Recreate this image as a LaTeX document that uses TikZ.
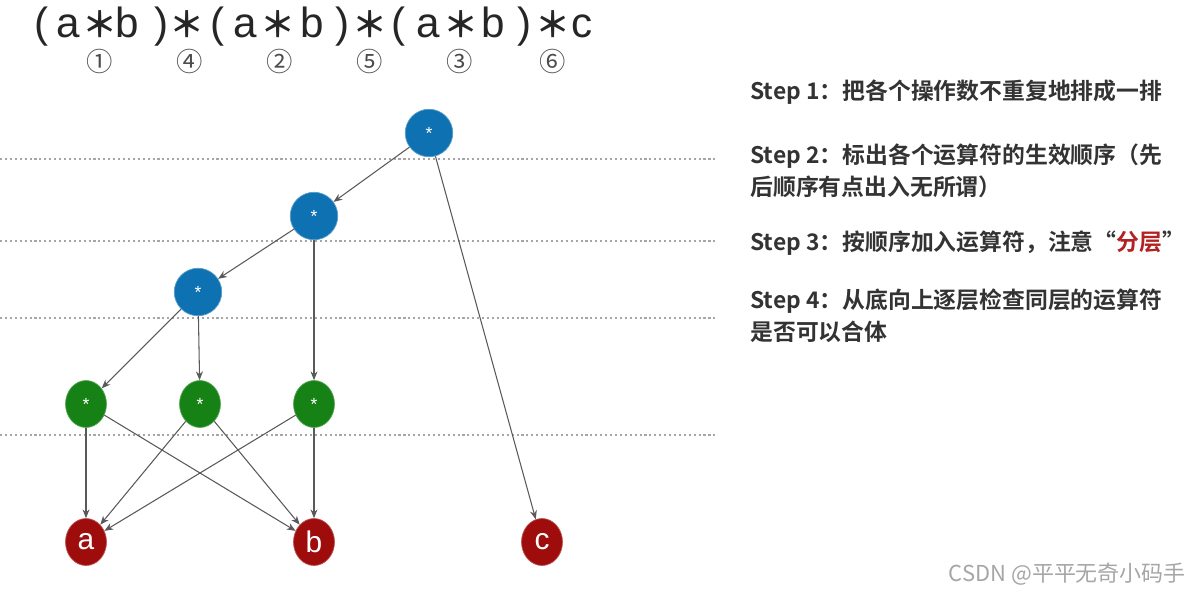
\documentclass[tikz,border=0pt]{standalone}
\usepackage{fontspec}
\setmainfont{Liberation Sans}
\newfontfamily\cjk{Noto Sans CJK SC}[BoldFont={Noto Sans CJK SC Bold}]
\usetikzlibrary{arrows.meta,shapes.geometric}

\definecolor{opblue}{RGB}{14,114,178}
\definecolor{opgreen}{RGB}{22,130,22}
\definecolor{valred}{RGB}{158,12,12}
\definecolor{hired}{RGB}{178,34,34}
\newcommand\opstar{{\cjk\bfseries\fontsize{20}{20}\selectfont ＊}}

\begin{document}
\begin{tikzpicture}[x=0.02cm, y=-0.02cm,
  blueop/.style={circle, fill=opblue, draw=opblue!70!white, minimum size=0.95cm, inner sep=0pt, text=white},
  greenop/.style={ellipse, fill=opgreen, draw=opgreen!70!white, minimum width=0.82cm, minimum height=0.94cm, inner sep=0pt, text=white},
  value/.style={ellipse, fill=valred, draw=valred!70!white, minimum width=0.82cm, minimum height=0.94cm, inner sep=0pt, text=white, font=\fontsize{17}{17}\selectfont},
  link/.style={draw=black!65, line width=0.6pt, -{Stealth[length=5pt,width=4pt]}},
  layer/.style={draw=black!35, line width=0.8pt, dash pattern=on 1.2pt off 1.6pt},
  stepnote/.style={anchor=north west, align=left, inner sep=0pt, font=\cjk\bfseries\fontsize{13}{18.5}\selectfont, text=black!80}]
  \useasboundingbox (0,0) rectangle (1196,593);

  % expression and evaluation order
  \foreach \x/\t in {42/(, 68/a, 100/\opstar, 127/b, 162/), 187/\opstar, 218/(, 245/a, 278/\opstar, 312/b,
                     343/), 370/\opstar, 399/(, 428/a, 461/\opstar, 493/b, 525/), 553/\opstar, 582/c}
    \node[anchor=base, inner sep=1pt, font=\fontsize{24}{24}\selectfont, text=black!85] (tok\x) at (\x,37) {\t};
  \foreach \x/\n in {100/①, 190/④, 280/②, 370/⑤, 460/③, 553/⑥}
    \node[inner sep=1pt, font=\cjk\fontsize{15}{15}\selectfont, text=black!70] (ord\x) at (\x,61) {\n};

  % layers
  \foreach \y in {159,241,318,435}
    \draw[layer] (0,\y) coordinate (l\y) -- (718,\y);

  % operators
  \node[blueop] (op6) at (429,133) {*};
  \node[blueop] (op5) at (314,216) {*};
  \node[blueop] (op4) at (198,292) {*};
  \node[greenop] (op1) at (86,404) {*};
  \node[greenop] (op2) at (200,404) {*};
  \node[greenop] (op3) at (314,404) {*};
  % operands
  \node[value] (a) at (86,542) {a};
  \node[value] (b) at (314,542) {b};
  \node[value] (c) at (542,542) {c};

  \draw[link] (op6) -- (op5);
  \draw[link] (op6) -- (c);
  \draw[link] (op5) -- (op4);
  \draw[link] (op5) -- (op3);
  \draw[link] (op4) -- (op1);
  \draw[link] (op4) -- (op2);
  \foreach \o in {op1,op2,op3} {
    \draw[link] (\o) -- (a);
    \draw[link] (\o) -- (b);
  }

  % steps
  \node[stepnote] (s1) at (750,79) {Step 1：把各个操作数不重复地排成一排};
  \node[stepnote] (s2) at (750,143) {Step 2：标出各个运算符的生效顺序（先\\后顺序有点出入无所谓）};
  \node[stepnote] (s3) at (750,230) {Step 3：按顺序加入运算符，注意“\textcolor{hired}{分层}”};
  \node[stepnote] (s4) at (750,288) {Step 4：从底向上逐层检查同层的运算符\\是否可以合体};

  \node[anchor=east, font=\cjk\fontsize{12.5}{12.5}\selectfont, text=black!35] (mark) at (1192,574) {CSDN @平平无奇小码手};
\end{tikzpicture}
\end{document}
